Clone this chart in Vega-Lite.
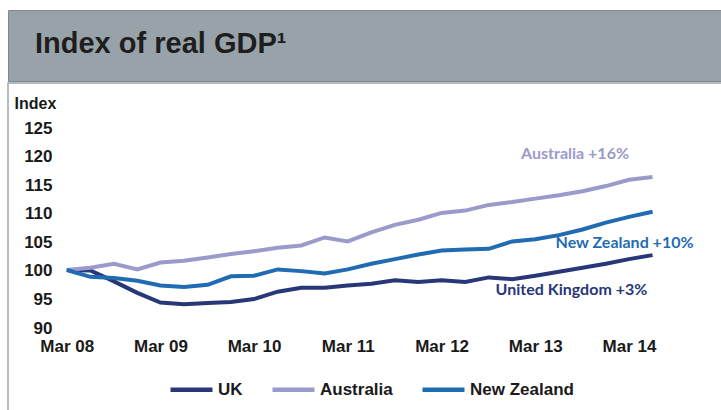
{
  "$schema": "https://vega.github.io/schema/vega-lite/v6.json",
  "background": "white",
  "padding": {"left": 7, "top": 9, "right": 0, "bottom": 0},
  "spacing": 0,
  "config": {"font": "Liberation Sans"},
  "vconcat": [
    {
      "width": 720,
      "height": 71,
      "view": {"fill": "#97a3a9", "stroke": "#7f8a90", "strokeWidth": 1},
      "data": {"values": [{"title": "Index of real GDP¹"}]},
      "mark": {"type": "text", "align": "left", "baseline": "alphabetic", "dx": 27, "dy": 7, "fontSize": 29, "fontWeight": "bold", "color": "#1e1e1e", "font": "Liberation Sans"},
      "encoding": {
        "x": {"datum": 0, "type": "quantitative", "scale": {"domain": [0, 1]}, "axis": null},
        "text": {"field": "title"}
      }
    },
    {
      "width": 720,
      "height": 340,
      "view": {"stroke": "#a0a4a7", "strokeWidth": 1.5, "fill": "white"},
      "encoding": {
        "x": {
          "field": "date", "type": "temporal",
          "scale": {"domain": [{"year": 2007, "month": 7, "date": 16}, {"year": 2015, "month": 3, "date": 22}], "nice": false},
          "axis": {
            "title": null, "format": "%b %y",
            "values": [{"year": 2008, "month": 3, "date": 1}, {"year": 2009, "month": 3, "date": 1}, {"year": 2010, "month": 3, "date": 1}, {"year": 2011, "month": 3, "date": 1}, {"year": 2012, "month": 3, "date": 1}, {"year": 2013, "month": 3, "date": 1}, {"year": 2014, "month": 3, "date": 1}],
            "orient": "bottom", "offset": -77, "domain": false, "ticks": false, "tickSize": 0, "labelPadding": 0,
            "labelBaseline": "middle", "labelFontSize": 17, "labelFontWeight": "bold", "labelColor": "#1a1a1a",
            "grid": false, "labelFlush": false, "labelOverlap": false
          }
        },
        "y": {
          "field": "value", "type": "quantitative",
          "scale": {"domain": [73.2, 132.75], "nice": false, "zero": false},
          "axis": {
            "title": "Index", "values": [90, 95, 100, 105, 110, 115, 120, 125],
            "offset": -44, "domain": false, "ticks": false, "tickSize": 0, "labelPadding": 0, "labelOffset": 1,
            "labelFontSize": 17, "labelFontWeight": "bold", "labelColor": "#1a1a1a", "grid": false,
            "titleAngle": 0, "titleAlign": "left", "titleBaseline": "alphabetic", "titleX": -38, "titleY": 25,
            "titleFontSize": 16, "titleFontWeight": "bold", "titleColor": "#1a1a1a"
          }
        }
      },
      "layer": [
        {
          "data": {"values": [
            {"date": "2008-03-01T00:00:00", "country": "UK", "value": 100.0},
            {"date": "2008-06-01T00:00:00", "country": "UK", "value": 99.9},
            {"date": "2008-09-01T00:00:00", "country": "UK", "value": 98.0},
            {"date": "2008-12-01T00:00:00", "country": "UK", "value": 96.0},
            {"date": "2009-03-01T00:00:00", "country": "UK", "value": 94.3},
            {"date": "2009-06-01T00:00:00", "country": "UK", "value": 94.0},
            {"date": "2009-09-01T00:00:00", "country": "UK", "value": 94.2},
            {"date": "2009-12-01T00:00:00", "country": "UK", "value": 94.4},
            {"date": "2010-03-01T00:00:00", "country": "UK", "value": 94.9},
            {"date": "2010-06-01T00:00:00", "country": "UK", "value": 96.2},
            {"date": "2010-09-01T00:00:00", "country": "UK", "value": 96.9},
            {"date": "2010-12-01T00:00:00", "country": "UK", "value": 96.9},
            {"date": "2011-03-01T00:00:00", "country": "UK", "value": 97.3},
            {"date": "2011-06-01T00:00:00", "country": "UK", "value": 97.6},
            {"date": "2011-09-01T00:00:00", "country": "UK", "value": 98.2},
            {"date": "2011-12-01T00:00:00", "country": "UK", "value": 97.9},
            {"date": "2012-03-01T00:00:00", "country": "UK", "value": 98.2},
            {"date": "2012-06-01T00:00:00", "country": "UK", "value": 97.9},
            {"date": "2012-09-01T00:00:00", "country": "UK", "value": 98.7},
            {"date": "2012-12-01T00:00:00", "country": "UK", "value": 98.4},
            {"date": "2013-03-01T00:00:00", "country": "UK", "value": 99.0},
            {"date": "2013-06-01T00:00:00", "country": "UK", "value": 99.7},
            {"date": "2013-09-01T00:00:00", "country": "UK", "value": 100.4},
            {"date": "2013-12-01T00:00:00", "country": "UK", "value": 101.1},
            {"date": "2014-03-01T00:00:00", "country": "UK", "value": 101.9},
            {"date": "2014-06-01T00:00:00", "country": "UK", "value": 102.6},
            {"date": "2008-03-01T00:00:00", "country": "Australia", "value": 100.0},
            {"date": "2008-06-01T00:00:00", "country": "Australia", "value": 100.4},
            {"date": "2008-09-01T00:00:00", "country": "Australia", "value": 101.1},
            {"date": "2008-12-01T00:00:00", "country": "Australia", "value": 100.1},
            {"date": "2009-03-01T00:00:00", "country": "Australia", "value": 101.3},
            {"date": "2009-06-01T00:00:00", "country": "Australia", "value": 101.6},
            {"date": "2009-09-01T00:00:00", "country": "Australia", "value": 102.2},
            {"date": "2009-12-01T00:00:00", "country": "Australia", "value": 102.8},
            {"date": "2010-03-01T00:00:00", "country": "Australia", "value": 103.3},
            {"date": "2010-06-01T00:00:00", "country": "Australia", "value": 103.9},
            {"date": "2010-09-01T00:00:00", "country": "Australia", "value": 104.3},
            {"date": "2010-12-01T00:00:00", "country": "Australia", "value": 105.7},
            {"date": "2011-03-01T00:00:00", "country": "Australia", "value": 105.0},
            {"date": "2011-06-01T00:00:00", "country": "Australia", "value": 106.6},
            {"date": "2011-09-01T00:00:00", "country": "Australia", "value": 107.9},
            {"date": "2011-12-01T00:00:00", "country": "Australia", "value": 108.8},
            {"date": "2012-03-01T00:00:00", "country": "Australia", "value": 110.0},
            {"date": "2012-06-01T00:00:00", "country": "Australia", "value": 110.4},
            {"date": "2012-09-01T00:00:00", "country": "Australia", "value": 111.4},
            {"date": "2012-12-01T00:00:00", "country": "Australia", "value": 111.9},
            {"date": "2013-03-01T00:00:00", "country": "Australia", "value": 112.5},
            {"date": "2013-06-01T00:00:00", "country": "Australia", "value": 113.1},
            {"date": "2013-09-01T00:00:00", "country": "Australia", "value": 113.8},
            {"date": "2013-12-01T00:00:00", "country": "Australia", "value": 114.7},
            {"date": "2014-03-01T00:00:00", "country": "Australia", "value": 115.8},
            {"date": "2014-06-01T00:00:00", "country": "Australia", "value": 116.3},
            {"date": "2008-03-01T00:00:00", "country": "New Zealand", "value": 100.0},
            {"date": "2008-06-01T00:00:00", "country": "New Zealand", "value": 98.8},
            {"date": "2008-09-01T00:00:00", "country": "New Zealand", "value": 98.6},
            {"date": "2008-12-01T00:00:00", "country": "New Zealand", "value": 98.1},
            {"date": "2009-03-01T00:00:00", "country": "New Zealand", "value": 97.3},
            {"date": "2009-06-01T00:00:00", "country": "New Zealand", "value": 97.0},
            {"date": "2009-09-01T00:00:00", "country": "New Zealand", "value": 97.4},
            {"date": "2009-12-01T00:00:00", "country": "New Zealand", "value": 98.9},
            {"date": "2010-03-01T00:00:00", "country": "New Zealand", "value": 99.0},
            {"date": "2010-06-01T00:00:00", "country": "New Zealand", "value": 100.1},
            {"date": "2010-09-01T00:00:00", "country": "New Zealand", "value": 99.8},
            {"date": "2010-12-01T00:00:00", "country": "New Zealand", "value": 99.4},
            {"date": "2011-03-01T00:00:00", "country": "New Zealand", "value": 100.1},
            {"date": "2011-06-01T00:00:00", "country": "New Zealand", "value": 101.1},
            {"date": "2011-09-01T00:00:00", "country": "New Zealand", "value": 101.9},
            {"date": "2011-12-01T00:00:00", "country": "New Zealand", "value": 102.7},
            {"date": "2012-03-01T00:00:00", "country": "New Zealand", "value": 103.4},
            {"date": "2012-06-01T00:00:00", "country": "New Zealand", "value": 103.6},
            {"date": "2012-09-01T00:00:00", "country": "New Zealand", "value": 103.7},
            {"date": "2012-12-01T00:00:00", "country": "New Zealand", "value": 105.0},
            {"date": "2013-03-01T00:00:00", "country": "New Zealand", "value": 105.4},
            {"date": "2013-06-01T00:00:00", "country": "New Zealand", "value": 106.1},
            {"date": "2013-09-01T00:00:00", "country": "New Zealand", "value": 107.1},
            {"date": "2013-12-01T00:00:00", "country": "New Zealand", "value": 108.3},
            {"date": "2014-03-01T00:00:00", "country": "New Zealand", "value": 109.3},
            {"date": "2014-06-01T00:00:00", "country": "New Zealand", "value": 110.2}
          ]},
          "mark": {"type": "line", "strokeWidth": 4},
          "encoding": {
            "color": {
              "field": "country", "type": "nominal",
              "scale": {"domain": ["UK", "Australia", "New Zealand"], "range": ["#283777", "#9a9acb", "#1f6cb3"]},
              "legend": {
                "orient": "none", "legendX": 160, "legendY": 356, "direction": "horizontal", "title": null,
                "symbolType": "stroke", "symbolSize": 1764, "symbolStrokeWidth": 4.5,
                "labelFontSize": 17, "labelFontWeight": "bold", "labelColor": "#1a1a1a", "labelOffset": 3,
                "columnPadding": 20, "padding": 0
              }
            }
          }
        },
        {
          "data": {"values": [
            {"date": "2013-08-03T00:00:00", "country": "Australia", "value": 119.5, "label": "Australia +16%"},
            {"date": "2014-02-12T00:00:00", "country": "New Zealand", "value": 103.85, "label": "New Zealand +10%"},
            {"date": "2013-07-20T00:00:00", "country": "UK", "value": 95.57, "label": "United Kingdom +3%"}
          ]},
          "mark": {"type": "text", "font": "Lato", "fontWeight": "bold", "fontSize": 16, "align": "center", "baseline": "alphabetic"},
          "encoding": {
            "text": {"field": "label"},
            "color": {
              "field": "country", "type": "nominal",
              "scale": {"domain": ["UK", "Australia", "New Zealand"], "range": ["#283777", "#9a9acb", "#1f6cb3"]},
              "legend": null
            }
          }
        }
      ]
    }
  ]
}
